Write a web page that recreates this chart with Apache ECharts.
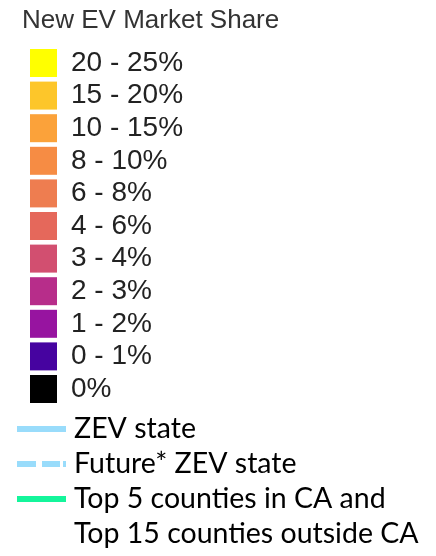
<!DOCTYPE html>
<html>
<head>
<meta charset="utf-8">
<script src="https://cdn.jsdelivr.net/npm/echarts@6/dist/echarts.min.js"></script>
<style>
html,body{margin:0;padding:0;background:#fff;}
#chart{width:436px;height:556px;}
</style>
</head>
<body>
<div id="chart"></div>
<script>
const titleText = 'New EV Market Share';
const shareCategories = ['20 - 25%', '15 - 20%', '10 - 15%', '8 - 10%', '6 - 8%', '4 - 6%', '3 - 4%', '2 - 3%', '1 - 2%', '0 - 1%', '0%'];
const shareColors = ['#ffff00', '#fdc62a', '#fba23a', '#f68c44', '#ee7d50', '#e5685b', '#d24f70', '#b72d8a', '#9714a0', '#4603a0', '#000000'];
const lineCategories = ['ZEV state', 'Future* ZEV state', 'Top 5 counties in CA and', 'Top 15 counties outside CA'];
const lineColors = ['#99dcfb', '#99dcfb', '#14f59b', 'rgba(0,0,0,0)'];
const lineDashed = [false, true, false, false];

const series = [];
shareCategories.forEach((name, i) => {
  series.push({ type: 'scatter', name: name, data: [], itemStyle: { color: shareColors[i], opacity: 1 } });
});
lineCategories.forEach((name, i) => {
  series.push({
    type: 'line', name: name, data: [], symbol: 'none',
    lineStyle: { color: lineColors[i], width: 6, type: lineDashed[i] ? 'dashed' : 'solid' },
    itemStyle: { color: lineColors[i], opacity: 1 }
  });
});

const dashIcon = 'path://M0,0h19v6h-19z M25,0h18v6h-18z M46,0h3v6h-3z';
const lineLegendData = lineCategories.map((name, i) => ({
  name: name,
  icon: lineDashed[i] ? dashIcon : 'rect'
}));

const chart = echarts.init(document.getElementById('chart'), null, { renderer: 'canvas' });
chart.setOption({
  animation: false,
  backgroundColor: '#ffffff',
  title: {
    text: titleText, left: 22, top: 6, padding: 0,
    textStyle: { fontFamily: 'Liberation Sans', fontSize: 26, fontWeight: 'normal', color: '#333333', lineHeight: 30 }
  },
  grid: { left: 0, right: 0, top: 0, bottom: 0, show: false },
  xAxis: { show: false, type: 'value' },
  yAxis: { show: false, type: 'value' },
  legend: [
    {
      data: shareCategories, orient: 'vertical', left: 30, top: 49, padding: 0,
      icon: 'rect', itemWidth: 27, itemHeight: 28, itemGap: 4.6,
      selectedMode: false,
      itemStyle: { borderWidth: 0, opacity: 1 },
      textStyle: { fontFamily: 'Liberation Sans', fontSize: 28, color: '#222222', lineHeight: 28, padding: [0, 0, 0, 9] }
    },
    {
      data: lineLegendData, orient: 'vertical', left: 17, top: 411.5, padding: 0,
      itemWidth: 49, itemHeight: 6, itemGap: 0,
      selectedMode: false,
      itemStyle: { borderWidth: 0, opacity: 1 },
      textStyle: { fontFamily: 'Lato', fontSize: 28.5, color: '#000000', lineHeight: 35, padding: [0, 0, 0, 3] }
    }
  ],
  series: series
});
</script>
</body>
</html>
